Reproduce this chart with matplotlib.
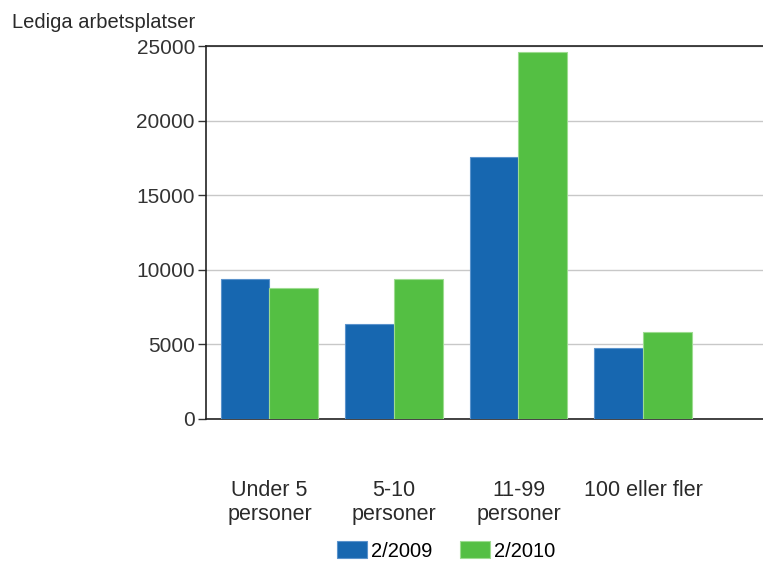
import matplotlib.pyplot as plt
import matplotlib as mpl
import numpy as np

categories = ['Under 5\npersoner', '5-10\npersoner', '11-99\npersoner', '100 eller fler']
series_names = ['2/2009', '2/2010']
vals_2009 = [9350, 6350, 17550, 4750]
vals_2010 = [8800, 9350, 24600, 5800]
yticks = [0, 5000, 10000, 15000, 20000, 25000]

blue = '#1767b0'
green = '#54bf43'

mpl.rcParams['font.family'] = ['Liberation Sans', 'DejaVu Sans']

fig = plt.figure(figsize=(7.63, 5.62), dpi=100)
ax = fig.add_axes([206 / 763, 1 - 419 / 562, 1 - 206 / 763 + 0.001, (419 - 46) / 562])

x = np.arange(len(categories))
w = 0.39
ax.bar(x - w / 2, vals_2009, w, color=blue, edgecolor='#5b93cc', linewidth=0.8, label=series_names[0], zorder=3)
ax.bar(x + w / 2, vals_2010, w, color=green, edgecolor='#9ddc90', linewidth=0.8, label=series_names[1], zorder=3)

ax.set_ylim(0, 25000)
ax.set_xlim(-0.51, 3.97)
ax.set_yticks(yticks)
ax.set_yticklabels([str(v) for v in yticks], fontsize=15, color='#333333')
ax.set_xticks(x)
ax.set_xticklabels(categories, fontsize=15.5, color='#2a2a2a', linespacing=1.2)
ax.tick_params(axis='x', length=0, pad=44)
ax.tick_params(axis='y', length=6, width=1, color='#333333', pad=2)
ax.yaxis.grid(True, color='#c8c8c8', linewidth=1, zorder=0)
ax.set_axisbelow(True)

for s in ['left', 'bottom', 'top']:
    ax.spines[s].set_color('#222222')
    ax.spines[s].set_linewidth(1.2)
ax.spines['right'].set_visible(False)

fig.text(12 / 763, 1 - 22 / 562, 'Lediga arbetsplatser', fontsize=14.5, color='#2a2a2a', va='center')

fig.legend(loc='center', bbox_to_anchor=(446 / 763, 1 - 551 / 562), ncol=2, frameon=False,
           fontsize=14.5, handlelength=1.5, handleheight=0.9, handletextpad=0.2, columnspacing=1.35)

fig.savefig('out.png', dpi=100)
